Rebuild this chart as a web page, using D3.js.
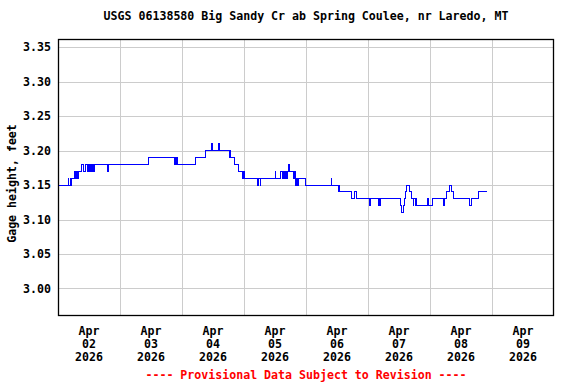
<!DOCTYPE html>
<meta charset="utf-8">
<script src="https://d3js.org/d3.v7.min.js"></script>
<style>
body { margin: 0; background-color: white; }
text { font-family: "DejaVu Sans Mono", monospace; font-weight: bold; font-size: 11.6px; }
</style>
<div id="chart"></div>
<script>
  // gage height readings, hours after Apr 02 2026 00:00 (step changes)
  var hours = [0, 4, 4.25, 4.75, 5, 5.25, 6.5, 6.75, 7.25, 7.5, 7.75, 9, 10, 10.5, 11.25, 11.75,
    12.25, 12.5, 12.75, 13, 13.25, 13.5, 13.75, 14, 19, 19.5, 35,
    45.25, 45.5, 45.75, 46, 46.25, 53.25, 57.25, 59.5, 59.75, 62.25, 62.5,
    66.25, 66.5, 66.75, 68.5, 70, 71.5, 71.75, 72,
    77.25, 77.75, 78.25, 78.5, 84, 84.25, 86.25,
    86.75, 87.25, 87.5, 88, 88.5, 88.75, 89.25, 89.5, 91, 91.25, 91.5, 91.75,
    92, 92.25, 92.75, 93, 95.75, 105.75, 106,
    108.5, 108.75, 109, 109.5, 113.5, 114.75, 115.5, 120.5, 121,
    124, 124.25, 124.5, 124.75, 132.5, 133, 133.75, 134.25, 134.5, 134.75,
    136, 136.75, 137.5, 137.75, 138.25, 138.5, 138.75,
    143, 143.25, 143.75, 145, 149.25, 149.5, 150.25, 151.5, 152.25, 153,
    159.25, 160.25, 162.75, 166.25];
  var gage = [3.15, 3.16, 3.15, 3.16, 3.15, 3.16, 3.17, 3.16, 3.17, 3.16, 3.17, 3.18, 3.17, 3.18, 3.17, 3.18,
    3.17, 3.18, 3.17, 3.18, 3.17, 3.18, 3.17, 3.18, 3.17, 3.18, 3.19,
    3.18, 3.19, 3.18, 3.19, 3.18, 3.19, 3.20, 3.21, 3.20, 3.21, 3.20,
    3.19, 3.20, 3.19, 3.18, 3.17, 3.16, 3.17, 3.16,
    3.15, 3.16, 3.15, 3.16, 3.17, 3.16, 3.17,
    3.16, 3.17, 3.16, 3.17, 3.16, 3.17, 3.18, 3.17, 3.16, 3.17, 3.16, 3.17,
    3.15, 3.16, 3.15, 3.16, 3.15, 3.16, 3.15,
    3.14, 3.15, 3.14, 3.14, 3.13, 3.14, 3.13, 3.12, 3.13,
    3.12, 3.13, 3.12, 3.13, 3.12, 3.11, 3.12, 3.13, 3.14, 3.15,
    3.14, 3.13, 3.12, 3.13, 3.12, 3.13, 3.12,
    3.13, 3.12, 3.12, 3.13, 3.12, 3.13, 3.14, 3.15, 3.14, 3.13,
    3.12, 3.13, 3.14, 3.14];

  var yTicks = [3.00, 3.05, 3.10, 3.15, 3.20, 3.25, 3.30, 3.35];
  var dayLabels = ["02", "03", "04", "05", "06", "07", "08", "09"];
  var monthLabel = "Apr", yearLabel = "2026";
  var title = "USGS 06138580 Big Sandy Cr ab Spring Coulee, nr Laredo, MT";
  var yTitle = "Gage height, feet";
  var footer = "---- Provisional Data Subject to Revision ----";

  var width = 576, height = 384;
  var margin = {top: 39, right: 22, bottom: 68, left: 58};
  var w = width - margin.left - margin.right,
      h = height - margin.top - margin.bottom;

  var t0 = new Date(2026, 3, 2);
  var data = hours.map(function(hr, i) {
    return {t: new Date(t0.getTime() + hr * 3600000), v: gage[i]};
  });

  var svg = d3.select("#chart").append("svg")
      .attr("width", width)
      .attr("height", height)
    .append("g")
      .attr("transform", "translate(" + margin.left + "," + margin.top + ")");

  var x = d3.scaleTime()
    .domain([t0, new Date(2026, 3, 10)])
    .range([0, w]);
  var y = d3.scaleLinear()
    .domain([2.96, 3.362])
    .range([h, 0]);

  // horizontal grid + y labels
  var yAxis = svg.append("g")
    .call(d3.axisLeft(y).tickValues(yTicks).tickSize(-w).tickPadding(7).tickFormat(d3.format(".2f")));
  yAxis.select(".domain").remove();
  yAxis.selectAll("line").attr("stroke", "#cccccc").attr("shape-rendering", "crispEdges");
  yAxis.selectAll("text").attr("fill", "black");
  yAxis.attr("font-size", null).attr("font-family", null);

  // vertical grid at midnights
  var days = d3.timeDay.range(new Date(2026, 3, 3), new Date(2026, 3, 10));
  var xGrid = svg.append("g")
    .attr("transform", "translate(0," + h + ")")
    .call(d3.axisBottom(x).tickValues(days).tickSize(-h).tickFormat(""));
  xGrid.select(".domain").remove();
  xGrid.selectAll("line").attr("stroke", "#cccccc").attr("shape-rendering", "crispEdges");

  // x labels at noon of each day
  var noons = dayLabels.map(function(d, i) { return d3.timeHour.offset(t0, 12 + 24 * i); });
  var lab = svg.append("g").selectAll("text")
    .data(noons)
    .enter().append("text")
      .attr("text-anchor", "middle")
      .attr("transform", function(d) { return "translate(" + x(d) + "," + (h + 19) + ")"; });
  lab.append("tspan").attr("x", 0).attr("y", 0).text(monthLabel);
  lab.append("tspan").attr("x", 0).attr("y", 13).text(function(d, i) { return dayLabels[i]; });
  lab.append("tspan").attr("x", 0).attr("y", 25.5).text(yearLabel);

  // gage line
  var line = d3.line()
    .x(function(d) { return x(d.t); })
    .y(function(d) { return y(d.v); })
    .curve(d3.curveStepAfter);
  svg.append("path")
    .datum(data)
    .attr("fill", "none")
    .attr("stroke", "#0000ff")
    .attr("stroke-width", 1)
    .attr("shape-rendering", "crispEdges")
    .attr("d", line);

  // frame
  svg.append("rect")
    .attr("x", 0.5).attr("y", 0.5)
    .attr("width", w - 1).attr("height", h - 1)
    .attr("fill", "none")
    .attr("stroke", "black")
    .attr("stroke-width", 1.3);

  svg.append("text")
    .attr("x", w / 2).attr("y", -19)
    .attr("text-anchor", "middle")
    .text(title);

  svg.append("text")
    .attr("transform", "translate(-42," + (h / 2 + 6) + ") rotate(-90)")
    .attr("text-anchor", "middle")
    .text(yTitle);

  svg.append("text")
    .attr("x", w / 2).attr("y", h + 63)
    .attr("text-anchor", "middle")
    .attr("fill", "red")
    .text(footer);
</script>
</html>
